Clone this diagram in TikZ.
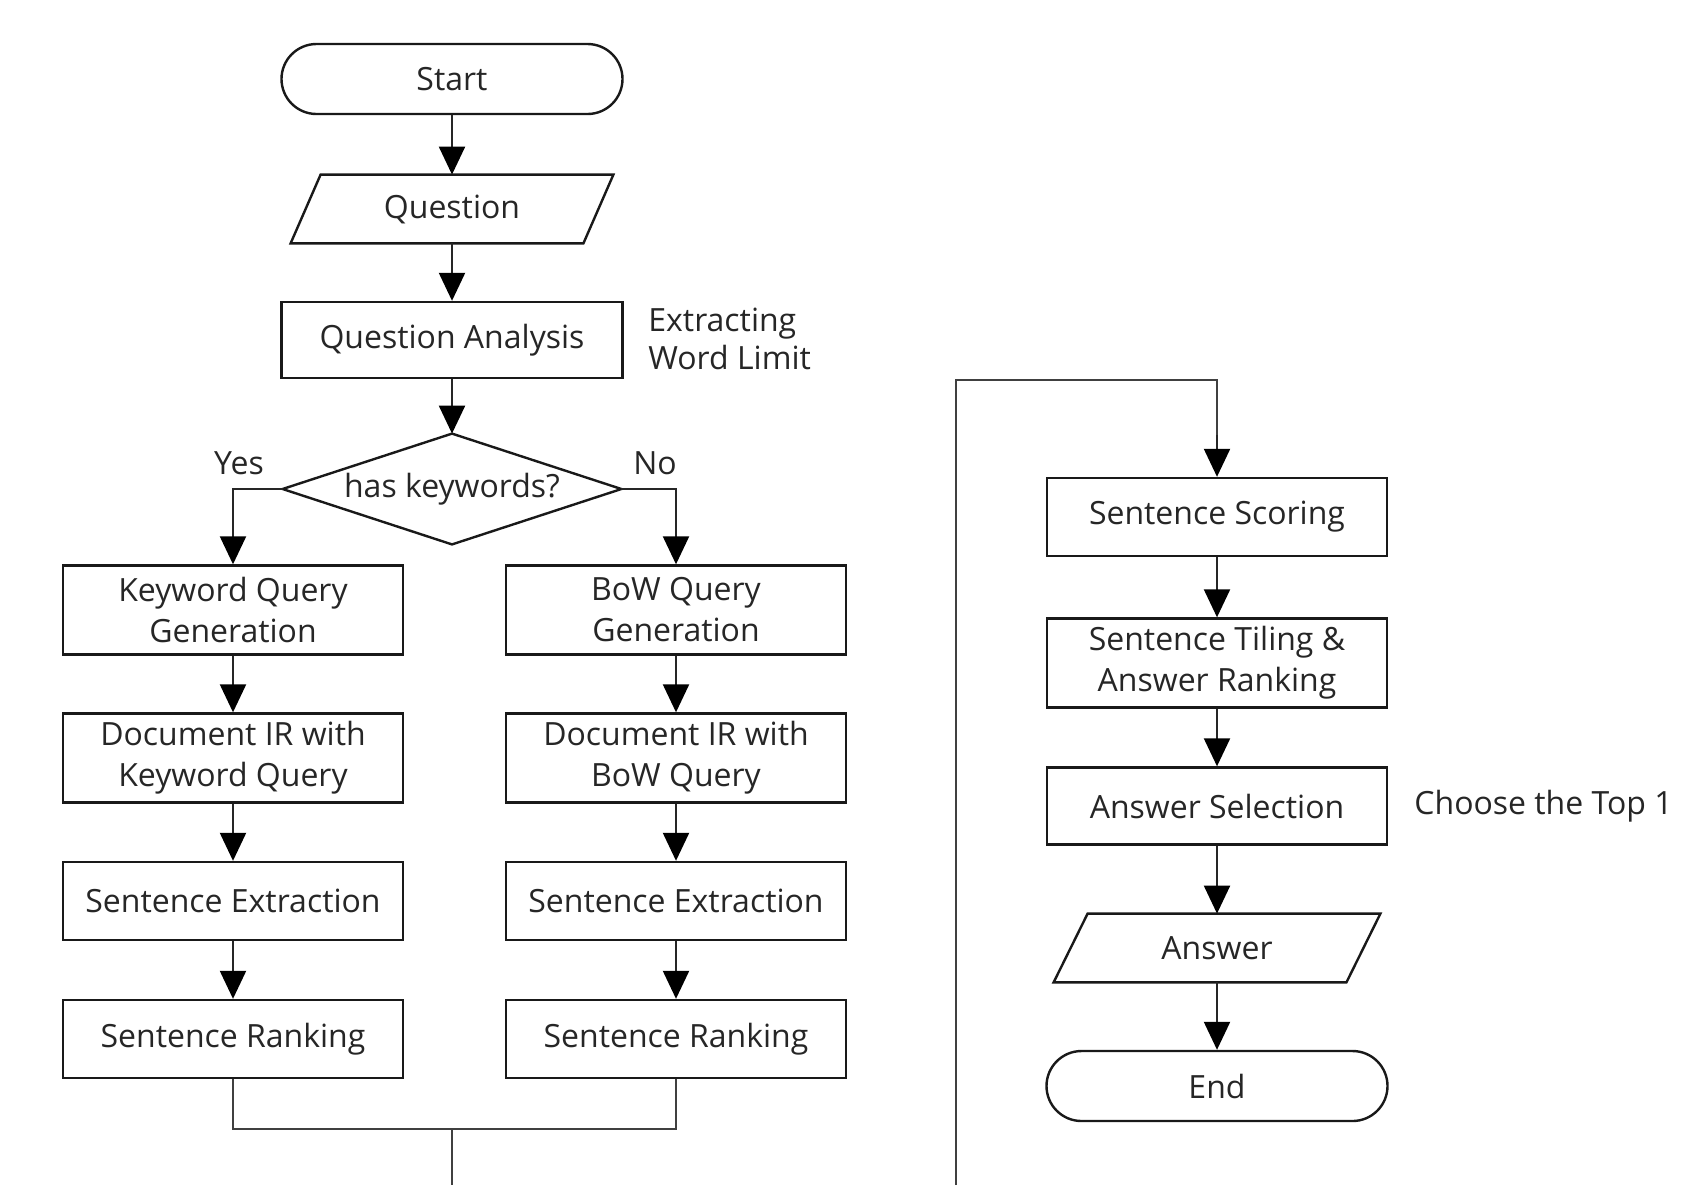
\documentclass[tikz,border=0pt]{standalone}
\usepackage{fontspec}
\setmainfont{Open Sans}
\usetikzlibrary{arrows.meta,calc}
\begin{document}
\begin{tikzpicture}[x=0.5pt,y=-0.5pt,
  txt/.style={font=\fontsize{16}{20.5}\selectfont, text=black!85},
  box/.style={txt, draw=black!90, line width=1.2pt, minimum width=170pt, minimum height=39pt, align=center, inner sep=0pt},
  tallbox/.style={box, minimum height=44.5pt},
  term/.style={box, rounded corners=17.5pt, minimum width=170.5pt, minimum height=35pt},
  io/.style={txt, minimum width=146pt, minimum height=34pt, inner sep=0pt},
  iodraw/.style={draw=black!90, line width=1.2pt},
  arr/.style={-{Triangle[width=13pt,length=14pt,color=black]}, line width=1.1pt, draw=black!85},
  ln/.style={line width=1.1pt, draw=black!75},
  lbl/.style={txt, inner sep=0pt}
]
\useasboundingbox (0,0) rectangle (1690,1185);

% left main column
\node[term] (start) at (452,79) {Start};
\node[io] (q) at (452,209) {Question};
\draw[iodraw] ($(q.north west)+(15,0)$) -- ($(q.north east)+(15,0)$) -- ($(q.south east)+(-15,0)$) -- ($(q.south west)+(-15,0)$) -- cycle;
\node[box, minimum width=170.5pt, minimum height=38pt] (qa) at (452,340) {Question Analysis};
\node[lbl, anchor=west, align=left, font=\fontsize{16}{19}\selectfont] (ewl) at (648,339) {Extracting\\Word Limit};
\node[txt, minimum width=169pt, minimum height=55pt, inner sep=0pt] (kw) at (452,489) {has keywords?};
\draw[iodraw] (kw.west) -- (kw.north) -- (kw.east) -- (kw.south) -- cycle;
\node[lbl] (yes) at (239,463) {Yes};
\node[lbl] (no) at (655,463) {No};

\node[tallbox] (kqg) at (233,610) {Keyword Query\\Generation};
\node[tallbox] (bqg) at (676,610) {BoW Query\\Generation};
\node[tallbox] (dk) at (233,758) {Document IR with\\Keyword Query};
\node[tallbox] (db) at (676,758) {Document IR with\\BoW Query};
\node[box] (se1) at (233,901) {Sentence Extraction};
\node[box] (se2) at (676,901) {Sentence Extraction};
\node[box] (sr1) at (233,1039) {Sentence Ranking};
\node[box] (sr2) at (676,1039) {Sentence Ranking};
\coordinate (m) at (452,1129);
\coordinate (mb) at (452,1185);

% right column
\coordinate (lb) at (956,1185);
\coordinate (lt) at (956,380);
\node[box] (ss) at (1217,517) {Sentence Scoring};
\node[tallbox] (st) at (1217,663) {Sentence Tiling \&\\Answer Ranking};
\node[box, minimum height=38.5pt] (as) at (1217,806) {Answer Selection};
\node[lbl, anchor=west] (top1) at (1414,806) {Choose the Top 1};
\node[io] (ans) at (1217,948) {Answer};
\draw[iodraw] ($(ans.north west)+(17,0)$) -- ($(ans.north east)+(17,0)$) -- ($(ans.south east)+(-17,0)$) -- ($(ans.south west)+(-17,0)$) -- cycle;
\node[term] (end) at (1217,1086) {End};

% connectors
\draw[arr] (start) -- (q.north);
\draw[arr] (q) -- (qa);
\draw[arr] (qa) -- (kw.north);
\draw[arr] (kw.west) -| (kqg.north);
\draw[arr] (kw.east) -| (bqg.north);
\draw[arr] (kqg) -- (dk);
\draw[arr] (dk) -- (se1);
\draw[arr] (se1) -- (sr1);
\draw[arr] (bqg) -- (db);
\draw[arr] (db) -- (se2);
\draw[arr] (se2) -- (sr2);
\draw[ln] (sr1.south) |- (m) -| (sr2.south);
\draw[ln] (m) -- (mb);
\draw[ln] (lb) -- (lt) -| ($(ss.north)+(0,-40)$);
\draw[arr] ($(ss.north)+(0,-42)$) -- (ss.north);
\draw[arr] (ss) -- (st);
\draw[arr] (st) -- (as);
\draw[arr] (as) -- (ans.north);
\draw[arr] (ans) -- (end);
\end{tikzpicture}
\end{document}
